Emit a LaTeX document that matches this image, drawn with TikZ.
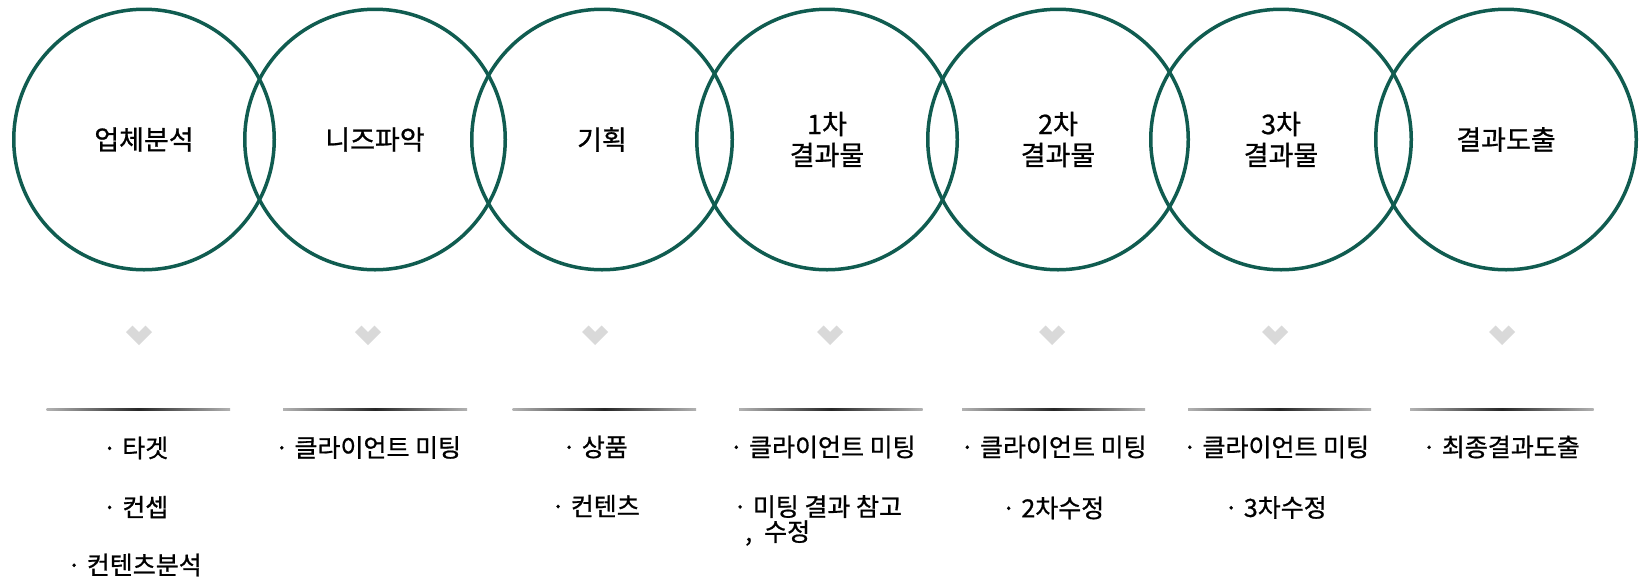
\documentclass[tikz,border=0pt]{standalone}
\usepackage{fontspec}
\setmainfont{Noto Sans CJK KR}
\newfontfamily\krcirc[FakeBold=0.8]{Noto Sans CJK KR}
\newfontfamily\krlist[FakeBold=0.8]{Noto Sans CJK KR}
\definecolor{ring}{HTML}{105C50}
\definecolor{chev}{HTML}{D9D9D9}
\tikzset{
  ring/.style={circle, draw=ring, line width=3.5pt, minimum size=260.5pt, inner sep=0pt, align=center,
    font=\krcirc\fontsize{27}{31}\selectfont},
  item/.style={inner sep=0pt, font=\krlist\fontsize{25}{26}\selectfont},
}
\newcommand{\chevron}[1]{\fill[chev] (#1-13,332) -- (#1-6.5,325.5) -- (#1,332) -- (#1+6.5,325.5) -- (#1+13,332) -- (#1,345) -- cycle;}
\newcommand{\rulebar}[2]{\shade[left color=gray!60, right color=gray!60, middle color=black!85] (#1,408.8) rectangle (#2,410.1);}
\begin{document}
\begin{tikzpicture}[x=1pt,y=-1pt]
\useasboundingbox[fill=white] (0,0) rectangle (1641,579);
% circles
\node[ring] (c1) at (144,139.5) {업체분석};
\node[ring] (c2) at (375,139.5) {니즈파악};
\node[ring] (c3) at (602,139.5) {기획};
\node[ring] (c4) at (827,139.5) {1차\\결과물};
\node[ring] (c5) at (1058,139.5) {2차\\결과물};
\node[ring] (c6) at (1281,139.5) {3차\\결과물};
\node[ring] (c7) at (1506,139.5) {결과도출};
% chevrons
\chevron{139}
\chevron{368}
\chevron{595}
\chevron{830}
\chevron{1052}
\chevron{1275}
\chevron{1502}
% rules
\rulebar{46.7}{230}
\rulebar{283}{467}
\rulebar{512.7}{696}
\rulebar{739}{922.7}
\rulebar{962}{1145}
\rulebar{1188}{1371}
\rulebar{1410}{1593.7}
% items
\node[item] (a1) at (135.5,448) {· 타겟};
\node[item] (a2) at (135.5,507) {· 컨셉};
\node[item] (a3) at (134.5,565) {· 컨텐츠분석};
\node[item] (b1) at (368,447.5) {· 클라이언트 미팅};
\node[item] (d1) at (595,447) {· 상품};
\node[item] (d2) at (595.5,506) {· 컨텐츠};
\node[item] (e1) at (822.5,447) {· 클라이언트 미팅};
\node[item, anchor=north west, align=left] (e2) at (733,495) {· 미팅 결과 참고\\[-1pt]\hspace{12pt},\hspace{12pt}수정};
\node[item] (f1) at (1053.5,447) {· 클라이언트 미팅};
\node[item] (f2) at (1053,508) {· 2차수정};
\node[item] (g1) at (1276,447) {· 클라이언트 미팅};
\node[item] (g2) at (1275.5,507.5) {· 3차수정};
\node[item] (h1) at (1501,447) {· 최종결과도출};
\end{tikzpicture}
\end{document}
